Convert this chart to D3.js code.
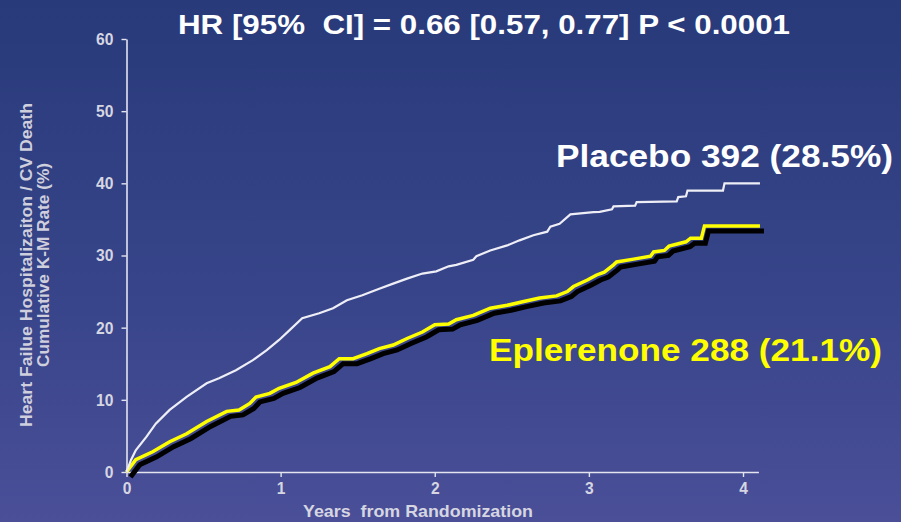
<!DOCTYPE html>
<html>
<head>
<meta charset="utf-8">
<script src="https://cdn.jsdelivr.net/npm/d3@7"></script>
<style>
  html, body { margin: 0; padding: 0; background: #3a4589; }
  svg { display: block; }
</style>
</head>
<body>
<svg id="chart" width="901" height="522"></svg>
<script>
// ---------- data ----------
const titleText = "HR [95%  CI] = 0.66 [0.57, 0.77] P < 0.0001";
const yTicks = [0, 10, 20, 30, 40, 50, 60];
const xTicks = [0, 1, 2, 3, 4];
const xTitle = "Years  from Randomization";
const yTitleLines = ["Heart Failue Hospitalizaiton / CV Death", "Cumulative K-M Rate (%)"];
const seriesNames = ["Placebo 392 (28.5%)", "Eplerenone 288 (21.1%)"];

const placeboYears = [0, 0.03, 0.06, 0.13, 0.19, 0.28, 0.39, 0.52, 0.60, 0.71, 0.82, 0.91, 0.99,
  1.06, 1.14, 1.25, 1.34, 1.43, 1.53, 1.64, 1.73, 1.82, 1.92, 2.01, 2.09, 2.14, 2.25, 2.27,
  2.36, 2.47, 2.55, 2.64, 2.73, 2.75, 2.81, 2.88, 3.03, 3.07, 3.15, 3.16, 3.30, 3.31, 3.57,
  3.58, 3.63, 3.64, 3.87, 3.88, 4.11];
const placeboRate = [0, 1.7, 3.0, 4.9, 6.7, 8.6, 10.4, 12.3, 13.0, 14.1, 15.5, 16.9, 18.3,
  19.7, 21.3, 22.0, 22.7, 23.8, 24.5, 25.4, 26.1, 26.8, 27.5, 27.8, 28.5, 28.7, 29.4, 29.9,
  30.7, 31.4, 32.1, 32.8, 33.3, 34.0, 34.4, 35.7, 36.0, 36.05, 36.4, 36.8, 36.9, 37.4, 37.5,
  38.1, 38.2, 39.0, 39.0, 40.0, 40.0];

const eplerenoneYears = [0, 0.06, 0.17, 0.28, 0.39, 0.52, 0.65, 0.73, 0.80, 0.84, 0.93, 0.99,
  1.10, 1.21, 1.32, 1.38, 1.47, 1.56, 1.64, 1.73, 1.82, 1.92, 2.00, 2.09, 2.14, 2.25, 2.36,
  2.47, 2.57, 2.68, 2.79, 2.86, 2.90, 2.99, 3.05, 3.10, 3.16, 3.18, 3.29, 3.40, 3.42, 3.49,
  3.52, 3.63, 3.66, 3.73, 3.75, 4.11];
const eplerenoneRate = [0, 1.7, 2.8, 4.2, 5.3, 7.0, 8.4, 8.6, 9.5, 10.4, 10.9, 11.6,
  12.4, 13.7, 14.6, 15.7, 15.7, 16.4, 17.1, 17.6, 18.5, 19.4, 20.4, 20.5, 21.1, 21.7, 22.7,
  23.1, 23.6, 24.1, 24.4, 25.0, 25.7, 26.6, 27.3, 27.7, 28.7, 29.1, 29.5, 29.9, 30.5, 30.7,
  31.3, 31.9, 32.4, 32.4, 34.1, 34.1];

// ---------- layout ----------
const W = 901, H = 522;
const svg = d3.select("#chart");
const defs = svg.append("defs");
const grad = defs.append("linearGradient").attr("id", "bg").attr("x1", 0).attr("y1", 0).attr("x2", 0).attr("y2", 1);
grad.append("stop").attr("offset", "0%").attr("stop-color", "#283a7a");
grad.append("stop").attr("offset", "55%").attr("stop-color", "#374489");
grad.append("stop").attr("offset", "100%").attr("stop-color", "#4a4f98");
svg.append("rect").attr("width", W).attr("height", H).attr("fill", "url(#bg)");

const x0 = 126.5, x4 = 743, yBase = 472, yTop = 39;
const x = d3.scaleLinear().domain([0, 4.1]).range([x0, x0 + (x4 - x0) / 4 * 4.1]);
const y = d3.scaleLinear().domain([0, 60]).range([yBase, yTop]);

const font = "'Liberation Sans', Arial, sans-serif";
const axisColor = "#e4e4f0";
const labelColor = "#d6d6e2";
const squeeze = 0.92;

// axes
const gy = svg.append("g").attr("transform", `translate(${x0},0)`)
  .call(d3.axisLeft(y).tickValues(yTicks).tickFormat(d3.format("d")).tickSize(5).tickSizeOuter(0).tickPadding(8));
const gx = svg.append("g").attr("transform", `translate(0,${yBase})`)
  .call(d3.axisBottom(x).tickValues(xTicks).tickFormat(d3.format("d")).tickSize(5).tickSizeOuter(0).tickPadding(5));
[gx, gy].forEach(g => {
  g.select(".domain").attr("stroke", axisColor).attr("stroke-width", 1.6);
  g.selectAll(".tick line").attr("stroke", axisColor).attr("stroke-width", 1.4);
  g.selectAll(".tick text").attr("fill", labelColor).attr("font-family", font)
    .attr("font-weight", "bold").attr("font-size", 17)
    .attr("transform", `scale(${squeeze},1)`);
});
gy.selectAll(".tick text").attr("x", -13 / squeeze);

// lines
const pts = (xs, ys) => xs.map((v, i) => [v, ys[i]]);
const line = d3.line().x(d => x(d[0])).y(d => y(d[1])).curve(d3.curveLinear);

// eplerenone shadow
svg.append("path").datum(pts(eplerenoneYears, eplerenoneRate))
  .attr("d", line).attr("fill", "none").attr("stroke", "#000").attr("stroke-width", 5)
  .attr("stroke-linejoin", "miter").attr("transform", "translate(4,5)");
svg.append("path").datum(pts(eplerenoneYears, eplerenoneRate))
  .attr("d", line).attr("fill", "none").attr("stroke", "#ffff00").attr("stroke-width", 3.5)
  .attr("stroke-linejoin", "miter");
svg.append("path").datum(pts(placeboYears, placeboRate))
  .attr("d", line).attr("fill", "none").attr("stroke", "#eeeef6").attr("stroke-width", 2.2);

// texts
svg.append("text").attr("x", 178).attr("y", 34).text(titleText)
  .attr("fill", "#ffffff").attr("font-family", font).attr("font-weight", "bold")
  .attr("font-size", 28).style("white-space", "pre")
  .attr("textLength", 612).attr("lengthAdjust", "spacingAndGlyphs");

svg.append("text").attr("x", 556).attr("y", 167).text(seriesNames[0])
  .attr("fill", "#ffffff").attr("font-family", font).attr("font-weight", "bold")
  .attr("font-size", 31).attr("textLength", 337).attr("lengthAdjust", "spacingAndGlyphs");
svg.append("text").attr("x", 489).attr("y", 361).text(seriesNames[1])
  .attr("fill", "#ffff00").attr("font-family", font).attr("font-weight", "bold")
  .attr("font-size", 31).attr("textLength", 393).attr("lengthAdjust", "spacingAndGlyphs");

svg.append("text").attr("x", 303).attr("y", 517).text(xTitle)
  .attr("fill", labelColor).attr("font-family", font).attr("font-weight", "bold")
  .attr("font-size", 17).style("white-space", "pre")
  .attr("textLength", 230).attr("lengthAdjust", "spacingAndGlyphs");

const yLens = [324, 204];
const yPos = [32, 49];
yTitleLines.forEach((t, i) => {
  svg.append("text").attr("transform", `translate(${yPos[i]},265) rotate(-90)`)
    .attr("text-anchor", "middle").text(t)
    .attr("fill", "#cfcfdd").attr("font-family", font).attr("font-weight", "bold")
    .attr("font-size", 16).attr("textLength", yLens[i]).attr("lengthAdjust", "spacingAndGlyphs");
});
</script>
</body>
</html>
